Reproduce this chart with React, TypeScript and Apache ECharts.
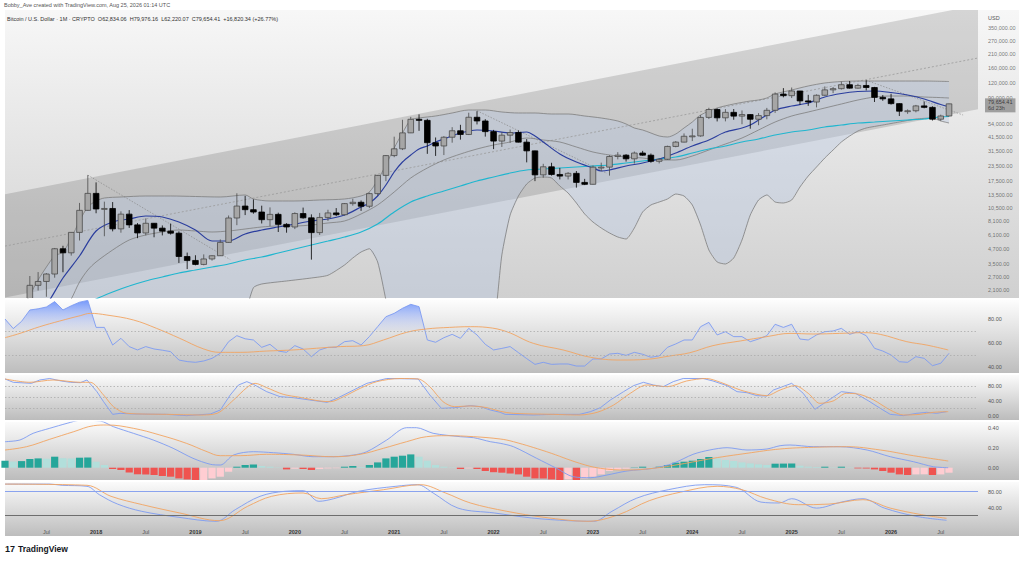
import React, { useEffect, useRef } from "react";
import * as echarts from "echarts";

// ---------- Monthly candles, index 0 = Mar 2017 ... 113 = Aug 2026 ----------
const OPEN = [
  1190, 1080, 1350, 2300, 2480, 2870, 4700, 4340, 6470, 9950,
  13860, 10220, 10320, 6930, 9240, 7490, 6400, 7730, 7030, 6630, 6370, 4040,
  3740, 3460, 3850, 4100, 5320, 8570, 10820, 10080, 9630, 8290, 9200, 7570,
  7190, 9350, 8600, 6440, 8660, 9460, 9140, 11350, 11650, 10780, 13800, 19700,
  29000, 33100, 45200, 58900, 57700, 37300, 35000, 41500, 47100, 43800, 61300, 57000,
  46300, 38500, 43200, 45500, 37700, 31800, 19900, 23300, 20050, 19430, 20500, 17170,
  16550, 23140, 23150, 28480, 29250, 27220, 30480, 29230, 25940, 26970, 34670, 37720,
  42280, 42580, 61130, 71330, 60640, 67490, 62680, 64620, 58970, 63330, 70220, 96450,
  93430, 102400, 84370, 82550, 94210, 104640, 107140, 115760, 108240, 114050, 109600, 90400,
  87800, 80000, 69000, 69600, 76500, 74400, 59000, 62834.06,
];
const CLOSE = [
  1080, 1350, 2300, 2480, 2870, 4700, 4340, 6470, 9950, 13860,
  10220, 10320, 6930, 9240, 7490, 6400, 7730, 7030, 6630, 6370, 4040, 3740,
  3460, 3850, 4100, 5320, 8570, 10820, 10080, 9630, 8290, 9200, 7570, 7190,
  9350, 8600, 6440, 8660, 9460, 9140, 11350, 11650, 10780, 13800, 19700, 29000,
  33100, 45200, 58900, 57700, 37300, 35000, 41500, 47100, 43800, 61300, 57000, 46300,
  38500, 43200, 45500, 37700, 31800, 19900, 23300, 20050, 19430, 20500, 17170, 16550,
  23140, 23150, 28480, 29250, 27220, 30480, 29230, 25940, 26970, 34670, 37720, 42280,
  42580, 61130, 71330, 60640, 67490, 62680, 64620, 58970, 63330, 70220, 96450, 93430,
  102400, 84370, 82550, 94210, 104640, 107140, 115760, 108240, 114050, 109600, 90400, 87800,
  80000, 69000, 69600, 76500, 74400, 59000, 62834.06, 79654.41,
];
const HIGH = [
  1280, 1350, 2760, 2980, 2920, 4770, 4980, 6470, 11500, 19800,
  17180, 11790, 11700, 9760, 10000, 7760, 8500, 7770, 7410, 7680, 6600, 4360,
  4140, 4210, 4130, 5640, 9000, 13880, 13200, 12330, 10900, 10540, 9510, 7750,
  9580, 10500, 9200, 9460, 10070, 10400, 11450, 12480, 12070, 14100, 19860, 29300,
  41950, 58350, 61800, 64900, 59500, 41300, 42400, 50500, 52900, 67000, 69000, 59100,
  47900, 45800, 48200, 47400, 40000, 31900, 24700, 25200, 22800, 21000, 21450, 18400,
  23950, 25250, 29200, 31000, 29820, 31400, 31800, 30200, 27500, 35200, 38500, 44700,
  48970, 64000, 73800, 72700, 71900, 72000, 70000, 65100, 66500, 73600, 99600, 108300,
  109600, 102500, 95000, 95800, 111900, 110600, 123200, 124500, 117900, 126200, 111000, 94500,
  97000, 80500, 71500, 78000, 83500, 76000, 64500, 79976.16,
];
const LOW = [
  890, 1060, 1350, 2080, 1840, 2670, 2970, 4110, 5520, 9900,
  9400, 6000, 6600, 6430, 7060, 5780, 6100, 5880, 6100, 6200, 3560, 3160,
  3400, 3400, 3730, 4080, 5300, 7450, 9070, 9320, 7700, 7300, 6520, 6430,
  6900, 8450, 3800, 6150, 8100, 8900, 8980, 10900, 9850, 10400, 13200, 17600,
  28100, 32300, 45000, 47000, 30000, 28800, 29300, 37300, 39600, 43300, 53300, 42000,
  32900, 34300, 37200, 37500, 25400, 17600, 18800, 19600, 18200, 18200, 15500, 16300,
  16500, 21400, 19600, 26940, 25800, 24800, 28900, 25200, 24900, 26600, 34100, 37600,
  38500, 41900, 59200, 56500, 56600, 58400, 53500, 49000, 52500, 58900, 66800, 90500,
  89200, 78200, 76600, 74400, 93400, 98200, 105300, 107400, 107300, 103500, 82600, 84500,
  78500, 62800, 65500, 67500, 73000, 57500, 57000, 62220.07,
];

// ---------- Overlays on the price pane: [month index, price] ----------
const MA_FAST = [
  [3, 1368], [4, 1570], [6, 2655], [8, 4080], [10, 6648], [12, 7925], [14, 8403], [16, 8910], [18, 8738],
  [20, 7925], [22, 6779], [24, 5468], [26, 5468], [28, 6270], [30, 6779], [32, 7188], [34, 7617], [36, 8082],
  [38, 8403], [40, 9085], [42, 10620], [43, 11490], [44, 13170], [45, 16320], [46, 21040], [47, 25580],
  [48, 29330], [49, 32980], [50, 34970], [51, 37800], [52, 40080], [54, 45060], [56, 47790], [58, 46870],
  [60, 45060], [62, 45950], [63, 42500], [64, 37800], [66, 29900], [68, 25580], [70, 22750], [71, 21460],
  [72, 21883], [74, 23660], [76, 25090], [78, 27120], [80, 30500], [82, 34970], [84, 39310], [86, 45950],
  [88, 49690], [89, 52690], [90, 58100], [91, 64060], [92, 70630], [94, 76360], [96, 80990], [98, 91000],
  [100, 97500], [102, 101400], [104, 102400], [106, 99400], [108, 94680], [110, 87600], [112, 78600], [113, 75300],
];
const MA_SLOW = [
  [8, 1475], [10, 1760], [12, 2020], [14, 2270], [16, 2505], [18, 2707], [20, 2928], [22, 3104], [24, 3291],
  [26, 3490], [28, 3773], [30, 3998], [32, 4326], [34, 4677], [36, 5058], [38, 5468], [40, 5913], [42, 6520],
  [44, 7617], [46, 9635], [48, 11710], [50, 13170], [52, 14520], [54, 16010], [56, 17650], [58, 19090],
  [60, 20640], [62, 21883], [64, 22310], [66, 22750], [68, 23200], [70, 23660], [72, 24130], [74, 25090],
  [76, 26090], [78, 27120], [80, 28200], [82, 30500], [84, 32980], [86, 34970], [88, 37800], [90, 40080],
  [92, 43340], [94, 45950], [96, 47790], [98, 50670], [100, 52690], [102, 54800], [104, 55870], [106, 56980],
  [108, 58100], [110, 59240], [112, 61600], [113, 62200],
];
const BB_UP = [
  [-1, 900], [0, 1100], [1, 1420], [2, 1904], [3, 2553], [4, 3290], [5, 4080], [6, 4410], [7, 5800], [8, 8082],
  [9, 10620], [10, 11945], [11, 12660], [13, 12910], [16, 13170], [19, 13170], [22, 13040], [25, 12910],
  [28, 13430], [29, 12420], [31, 11945], [34, 11945], [37, 12180], [40, 12420], [42, 13170], [43, 14240],
  [44, 18000], [45, 24130], [46, 33630], [47, 45060], [48, 58100], [49, 60420], [51, 62820], [53, 66620],
  [55, 70630], [57, 70630], [59, 67930], [61, 66620], [63, 66620], [65, 65330], [67, 65330], [69, 62820],
  [71, 60420], [73, 56980], [74, 53740], [75, 49690], [76, 47790], [77, 45060], [78, 42500], [79, 41680],
  [80, 44180], [81, 49690], [82, 55870], [83, 64060], [85, 73440], [87, 79420], [89, 84210], [90, 85870],
  [91, 89290], [92, 96520], [94, 104400], [96, 112900], [98, 119700], [100, 123200], [102, 124400],
  [104, 124400], [107, 124400], [110, 124400], [113, 123200],
];
const BB_MID = [
  [5, 1100], [6, 1368], [7, 1760], [8, 2454], [9, 3104], [10, 3630], [12, 4587], [14, 5576], [16, 6150],
  [18, 6520], [20, 6779], [22, 6648], [24, 6520], [26, 6648], [28, 6912], [30, 7188], [32, 7330], [34, 7330],
  [36, 7475], [38, 7772], [40, 8082], [42, 9270], [44, 11050], [46, 14240], [48, 18720], [50, 22750],
  [52, 26600], [54, 29900], [56, 32980], [58, 35660], [60, 37800], [62, 40880], [64, 39310], [66, 37800],
  [68, 34290], [70, 31100], [72, 29330], [74, 28200], [76, 27660], [78, 26600], [80, 26600], [82, 28760],
  [84, 32340], [86, 36360], [88, 40880], [90, 47790], [92, 55870], [94, 62820], [96, 67930], [98, 73440],
  [100, 79420], [102, 85870], [104, 91030], [106, 92850], [108, 92850], [110, 91030], [112, 90000], [113, 89290],
];
const BB_LO = [
  [-1, 400], [10, 400], [20, 500], [27, 800], [28, 1300], [29, 2200], [30, 2361], [33, 2504], [36, 2655],
  [38, 2800], [40, 3420], [41, 3923], [42, 4410], [43, 4700], [44, 3630], [45, 1728], [46, 800], [48, 400],
  [56, 400], [58, 1000], [59, 4160], [60, 9085], [61, 13170], [62, 16650], [63, 18720], [64, 19090],
  [65, 18720], [66, 16010], [67, 13960], [68, 11490], [69, 9270], [70, 7925], [71, 7049], [72, 6393],
  [73, 5913], [74, 5686], [75, 7049], [76, 9635], [77, 11050], [78, 11710], [79, 12420], [80, 13690],
  [81, 13170], [82, 11050], [83, 7475], [84, 4587], [85, 3630], [86, 3490], [87, 3923], [88, 5576],
  [89, 9085], [90, 12180], [91, 13430], [92, 11710], [93, 11490], [94, 12180], [95, 15700], [96, 19460],
  [97, 23200], [98, 27660], [99, 32340], [100, 37800], [101, 42500], [102, 46870], [103, 49690],
  [105, 52690], [107, 55870], [109, 59240], [111, 60420], [112, 56980], [113, 54800],
];
const CHANNEL_UP = [[-1, 13610], [116.5, 548600]];
const CHANNEL_MID = [[-1, 4950], [116.5, 195000]];
const CHANNEL_LO = [[-1, 1810], [116.5, 71740]];
const TRENDLINES = [
  [[9, 19800], [26.2, 3800]],
  [[56, 69600], [71.7, 20500]],
  [[103, 126200], [114.7, 64000]],
];

// ---------- Indicator panes ----------
// RSI, one value per month from index -1 (Feb 2017)
const RSI = [
  80, 72, 78, 87.5, 88.5, 90, 94.5, 87.5, 91, 94, 95.5, 73, 73, 58.3, 63.9, 57, 54.2, 57, 55, 54, 52.8,
  45.8, 44.5, 43.9, 45, 47.2, 51.4, 61.1, 66.1, 63.5, 62.5, 56.4, 58.9, 53.3, 52.2, 57.8, 55, 48.6, 54.2,
  56.4, 56.4, 61.1, 61.9, 58.3, 65.3, 73.6, 81.9, 84.7, 88.9, 92.2, 90.3, 62.5, 60.6, 64.4, 67.2, 63.9,
  72.2, 66.7, 58.9, 54.2, 55.5, 57, 52, 47, 42.2, 43.9, 42.2, 42.5, 42.5, 40.8, 40.8, 46.7, 46.7, 50.8,
  51.4, 49.7, 52.2, 50.6, 48.1, 49.2, 56.4, 59.2, 62.5, 62.5, 73.6, 77.2, 66.7, 69.4, 65.3, 65.3, 61.1,
  63.3, 66.1, 75.6, 73, 75.6, 63.3, 62.5, 66.7, 69.4, 70, 72.2, 67.2, 69.4, 66.1, 55.6, 53.3, 50, 44.4,
  43.9, 48.6, 47.2, 41.1, 43.1, 51.4,
];
const RSI_MA = [
  [-1, 64.4], [0.8, 68], [3.2, 73.6], [5.6, 78.3], [8.1, 82.8], [9.3, 84.7], [11.3, 83.3], [14.5, 79.2],
  [17.3, 72.2], [20.1, 63.9], [23, 55], [25, 52.2], [27.4, 52.2], [30.6, 53.3], [33.8, 54.2], [36.6, 55.6],
  [39.5, 57], [42.3, 57.8], [44.7, 62.5], [47.5, 68.9], [49.9, 71.7], [52.7, 73], [55.2, 73.6], [57.2, 73],
  [59.6, 69.4], [62.8, 59.7], [66.4, 54.2], [69.7, 48.1], [73.3, 45.8], [76.5, 46.4], [79.3, 49.2],
  [81.7, 51.9], [84.5, 57.8], [87.8, 61.7], [91, 65.3], [93.8, 68], [96.6, 67.5], [99.8, 68], [102.7, 68.6],
  [104.7, 67.2], [107.9, 61.1], [110.3, 58.3], [112.9, 54.2],
];
const STOCHRSI_K = [
  [-1, 98.7], [0, 89.8], [2.2, 87.1], [3.2, 96], [4.4, 100], [5.8, 93.3], [6.9, 89.8], [8.1, 88.9], [8.9, 96],
  [10.1, 64.9], [10.9, 38.2], [12, 4.4], [12.9, 7.1], [14.5, 5.3], [18.5, 4.4], [20.9, 1], [23.8, 5.3],
  [25, 16], [26.2, 56], [27.2, 82.7], [28.2, 91.6], [29, 84.4], [30.6, 64.9], [32.2, 51.6], [33.8, 48.9],
  [35.8, 42.7], [37.9, 36.4], [39.1, 47.1], [41.1, 69.3], [42.7, 87.1], [45.1, 100], [48.9, 98.7],
  [50.3, 56], [51.7, 20.4], [53.3, 22.2], [55.2, 27.6], [56.4, 24.9], [57.6, 16], [58.8, 9.8], [59.4, 4.4],
  [62.8, 2.7], [65.2, 4.4], [68.4, 4.4], [69.7, 11.6], [70.9, 22.2], [72.1, 42.7], [73.7, 64.9],
  [74.9, 80.9], [76.1, 89.8], [77.3, 82.7], [78.5, 78.2], [79.7, 91.6], [80.9, 100], [83.3, 100],
  [84.5, 93.3], [86.2, 80.9], [87.4, 64.9], [88.6, 62.2], [89.8, 54.2], [91, 53.3], [91.8, 69.3], [94, 87.1],
  [95.4, 60.4], [96.8, 17.8], [98.2, 38.2], [100, 64.9], [101.7, 60.4], [103.3, 40], [104.7, 20.4],
  [105.9, 4.4], [107.5, 1], [109.1, 7.1], [110.3, 9.8], [111.5, 7.1], [112.7, 11.6],
];
const STOCHRSI_D = [
  [-1, 98.7], [2, 89.8], [4.8, 96], [8.1, 89.8], [9.3, 89.8], [10.9, 56], [12.1, 24.9], [13.7, 7.1],
  [18.5, 4.4], [22.6, 2.7], [24.6, 7.1], [26.6, 42.7], [28.2, 75.6], [29.2, 87.1], [30.6, 75.6],
  [32.6, 57.8], [34.6, 49.8], [37, 40], [38.3, 38.2], [39.9, 51.6], [41.9, 73.8], [43.9, 91.6], [46.7, 100],
  [48.9, 98.7], [50.3, 78.2], [51.9, 38.2], [53.3, 24.9], [55.2, 26.7], [57.2, 22.2], [58.8, 12.5],
  [60.4, 7.1], [65.2, 4.4], [68.4, 2.7], [70.5, 9.8], [72.5, 29.3], [74.5, 60.4], [76.5, 82.7], [79, 78.2],
  [81.3, 93.3], [83.7, 100], [85.4, 89.8], [87.8, 69.3], [89.8, 57.8], [91, 54.2], [92.6, 69.3],
  [94.4, 80.9], [96, 60.4], [97.4, 33.8], [99, 40], [100.6, 60.4], [102.2, 57.8], [103.9, 42.7],
  [105.9, 16], [107.5, 2.7], [109.5, 4.4], [111.1, 9.8], [112.9, 11.6],
];
const MACD = [
  [-1, 0.26], [0.8, 0.277], [2.4, 0.344], [4.4, 0.394], [6.5, 0.444], [8.1, 0.474], [10.5, 0.467],
  [12.1, 0.41], [14.5, 0.344], [16.9, 0.277], [19.3, 0.194], [21.7, 0.094], [23.8, 0.034], [25, 0.027],
  [26.6, 0.127], [29, 0.16], [31.4, 0.15], [33.8, 0.134], [36.2, 0.11], [38.7, 0.11], [41.1, 0.127],
  [42.7, 0.16], [45.1, 0.277], [47.5, 0.4], [48.7, 0.4], [50.7, 0.344], [54, 0.31], [55.6, 0.3],
  [57.6, 0.26], [58.8, 0.244], [60.4, 0.21], [63.2, 0.094], [65.6, -0.006], [67.6, -0.09], [69.7, -0.1],
  [71.7, -0.073], [74.1, -0.033], [77.3, -0.006], [79.7, 0.044], [82.1, 0.134], [84.1, 0.177], [86.2, 0.2],
  [88.6, 0.177], [91, 0.187], [92.6, 0.22], [93.8, 0.227], [96.6, 0.21], [99.8, 0.21], [103.1, 0.177],
  [105.9, 0.11], [108.7, 0.06], [111.1, 0.01], [112.9, 0.0],
];
const MACD_SIGNAL = [
  [-1, 0.177], [1.6, 0.21], [4.4, 0.284], [7.3, 0.36], [9.7, 0.42], [11.3, 0.427], [14.5, 0.394],
  [17.7, 0.327], [20.9, 0.244], [23.4, 0.16], [25, 0.12], [27.4, 0.12], [30.6, 0.134], [34.6, 0.127],
  [38.7, 0.11], [41.9, 0.134], [44.7, 0.194], [47.5, 0.26], [49.9, 0.31], [52.4, 0.32], [55.6, 0.31],
  [58.8, 0.287], [60.4, 0.26], [64.4, 0.16], [68.4, 0.044], [70.9, -0.006], [74.1, -0.023], [77.3, -0.006],
  [80.5, 0.034], [84.5, 0.094], [88.6, 0.144], [92.6, 0.187], [96.6, 0.204], [100.6, 0.21], [104.7, 0.177],
  [108.7, 0.12], [112.9, 0.067],
];
// MACD histogram, one value per month from index -1
const MACD_HIST = [
  0.07, 0.062, 0.066, 0.087, 0.093, 0.09, 0.11, 0.095, 0.092, 0.1, 0.102, 0.06, 0.027, -0.013, -0.023,
  -0.047, -0.066, -0.068, -0.073, -0.083, -0.09, -0.107, -0.117, -0.13, -0.123, -0.107, -0.09, -0.04, 0.01,
  0.027, 0.033, 0.017, 0.01, 0.003, -0.017, -0.01, -0.013, -0.023, -0.013, -0.007, -0.005, 0.01, 0.017,
  0.007, 0.027, 0.053, 0.093, 0.11, 0.12, 0.133, 0.11, 0.07, 0.027, 0.01, 0.003, -0.013, -0.007, -0.013,
  -0.033, -0.045, -0.05, -0.057, -0.067, -0.09, -0.107, -0.108, -0.117, -0.123, -0.117, -0.13, -0.107,
  -0.09, -0.067, -0.033, -0.023, -0.01, 0.003, 0.01, 0.003, 0.01, 0.027, 0.05, 0.06, 0.07, 0.087, 0.107,
  0.093, 0.077, 0.067, 0.053, 0.043, 0.033, 0.027, 0.04, 0.041, 0.042, 0.02, 0.01, 0.007, 0.01, 0.003,
  0.01, 0.003, -0.007, -0.008, -0.017, -0.033, -0.05, -0.067, -0.073, -0.067, -0.066, -0.073, -0.067, -0.05,
];
const STOCH_K = [
  [-1, 99], [4.4, 99], [5.9, 96], [8.9, 93.5], [10.4, 72.5], [12.6, 49], [15.5, 31], [20, 16], [24.5, 6],
  [26.8, 35], [29.8, 68.5], [32.8, 81], [35, 82.5], [36.9, 56], [38.7, 62.5], [41.7, 81], [46.2, 93.5],
  [48.8, 97.5], [50.7, 76.8], [53.7, 39], [58.1, 26.8], [62.6, 14.3], [67.1, 7.5], [70.1, 6], [72.3, 31],
  [75.3, 64], [79.1, 85], [83.5, 97.5], [87.3, 91], [90.3, 54], [92.5, 51.8], [94, 62.5], [97, 39],
  [100, 54], [102.6, 62.5], [105.2, 39], [109, 18.5], [112.7, 8.5],
];
const STOCH_D = [
  [-1, 99], [8.9, 96], [11.8, 68.5], [15.6, 47.5], [20.1, 26.8], [24.9, 7.5], [28.3, 43.5], [31.2, 68.5],
  [35, 76.8], [37.2, 62.5], [40.2, 72.5], [44.7, 85], [49.2, 97.5], [52.2, 76.8], [55.2, 51.8], [59.6, 31],
  [64.1, 16], [69.4, 6], [73.1, 22.5], [76.8, 57.5], [80.6, 79], [85, 93.5], [88, 85], [91, 62.5],
  [94.8, 47.5], [98.5, 49], [102.6, 60], [105.9, 39], [109.7, 22.5], [112.7, 13.5],
];

// ---------- Axis ticks ----------
const PRICE_TICKS = [2100, 2700, 3500, 4700, 6100, 8100, 10500, 13500, 17500, 23500, 31500, 41500, 54000,
  90000, 120000, 160000, 210000, 270000, 350000];
const LAST_PRICE = 79654.41;
const X_TICK_POS = [4, 10, 16, 22, 28, 34, 40, 46, 52, 58, 64, 70, 76, 82, 88, 94, 100, 106, 112];
const X_TICK_LABELS = ["Jul", "2018", "Jul", "2019", "Jul", "2020", "Jul", "2021", "Jul", "2022", "Jul",
  "2023", "Jul", "2024", "Jul", "2025", "Jul", "2026", "Jul"];
const RSI_TICKS = [40, 60, 80];
const STOCHRSI_TICKS = [0, 40, 80];
const MACD_TICKS = [0, 0.2, 0.4];
const STOCH_TICKS = [40, 80];

const CREDIT = "Bobby_Ave created with TradingView.com, Aug 25, 2026 01:14 UTC";
const HEADER = "Bitcoin / U.S. Dollar · 1M · CRYPTO  O62,834.06  H79,976.16  L62,220.07  C79,654.41  +16,820.34 (+26.77%)";

const FONT = "Liberation Sans, Arial, sans-serif";
const X_MIN = -1;
const X_MAX = 116.5;
const P_MIN = 1796;
const P_MAX = 498100;

function buildOption() {
  const candles = OPEN.map((o, k) => [k, o, CLOSE[k], LOW[k], HIGH[k]]);
  const rsi = RSI.map((v, k) => [k - 1, v]);
  const hist = MACD_HIST.map((v, k) => {
    const p = k > 0 ? MACD_HIST[k - 1] : v;
    let c: string;
    if (v >= 0) c = v >= p ? "#26a69a" : "#b2dfdb";
    else c = v < p ? "#ef5350" : "#ffcdd2";
    return { value: [k - 1, v], itemStyle: { color: c } };
  });

  const line = (data: number[][], gi: number, color: string, width: number, extra: any = {}) => ({
    type: "line", xAxisIndex: gi, yAxisIndex: gi, data, showSymbol: false, symbol: "none",
    silent: true, lineStyle: { color, width }, z: 4, ...extra,
  });

  const polygon = (upper: number[][], lower: number[][], fill: string, z: number) => ({
    type: "custom", xAxisIndex: 0, yAxisIndex: 0, z, silent: true, clip: true,
    data: [[0, 10000]],
    renderItem: (_p: any, api: any) => {
      const pts = upper.map((p) => api.coord(p)).concat(lower.slice().reverse().map((p) => api.coord(p)));
      return { type: "polygon", shape: { points: pts }, style: { fill } };
    },
  });

  const candleSeries = {
    type: "custom", xAxisIndex: 0, yAxisIndex: 0, z: 6, silent: true, clip: true,
    data: candles,
    encode: { x: 0, y: [1, 2, 3, 4] },
    renderItem: (_p: any, api: any) => {
      const x = api.value(0), o = api.value(1), c = api.value(2), l = api.value(3), h = api.value(4);
      const pO = api.coord([x, o]);
      const pC = api.coord([x, c]);
      const pL = api.coord([x, l]);
      const pH = api.coord([x, h]);
      const w = api.size([1, 0])[0] * 0.68;
      const up = c >= o;
      const top = Math.min(pO[1], pC[1]);
      const bot = Math.max(pO[1], pC[1]);
      const stroke = up ? "#4a4a4a" : "#000000";
      return {
        type: "group",
        children: [
          { type: "line", shape: { x1: pH[0], y1: pH[1], x2: pL[0], y2: pL[1] }, style: { stroke, lineWidth: 0.8 } },
          {
            type: "rect",
            shape: { x: pO[0] - w / 2, y: top, width: w, height: Math.max(bot - top, 0.9) },
            style: { fill: up ? "#a6a6a6" : "#000000", stroke, lineWidth: 0.8 },
          },
        ],
      };
    },
  };

  const paneTops = [300, 375, 422, 482];
  const paneHeights = [73, 45, 58, 46];
  const grids: any[] = [{ left: 5, top: 10, width: 973, height: 288 }];
  paneTops.forEach((t, k) => grids.push({ left: 5, top: t, width: 973, height: paneHeights[k] }));
  grids.push({ left: 978, top: 10, width: 46, height: 288 });

  const xAxes: any[] = [];
  for (let g = 0; g < 5; g++) {
    xAxes.push({
      type: "value", gridIndex: g, min: X_MIN, max: X_MAX, show: g === 4,
      axisLine: { show: false }, axisTick: { show: false }, splitLine: { show: false },
      axisLabel: {
        show: g === 4, customValues: X_TICK_POS, margin: 1, fontSize: 5.5, color: "#555", fontFamily: FONT,
        formatter: (v: number) => {
          const t = X_TICK_LABELS[X_TICK_POS.indexOf(Math.round(v))] || "";
          return t === "Jul" ? t : "{b|" + t + "}";
        },
        rich: { b: { fontWeight: "bold", fontSize: 5.5, color: "#333", fontFamily: FONT } },
      },
    });
  }
  xAxes.push({ type: "value", gridIndex: 5, min: 0, max: 1, show: false });

  const valAxis = (g: number, min: number, max: number, ticks: number[]) => ({
    type: "value", gridIndex: g, min, max, position: "right",
    axisLine: { show: false }, axisTick: { show: false }, splitLine: { show: false },
    axisLabel: {
      customValues: ticks, margin: 10, fontSize: 5.5, color: "#555", fontFamily: FONT,
      formatter: (v: number) => v.toFixed(2),
    },
  });

  const yAxes: any[] = [
    { type: "log", logBase: 10, gridIndex: 0, min: P_MIN, max: P_MAX, show: false },
    valAxis(1, 35, 95.83, RSI_TICKS),
    valAxis(2, -10.67, 109.33, STOCHRSI_TICKS),
    valAxis(3, -0.123, 0.457, MACD_TICKS),
    valAxis(4, -10.75, 104.25, STOCH_TICKS),
    { type: "log", logBase: 10, gridIndex: 5, min: P_MIN, max: P_MAX, show: false },
  ];

  const dotted = (vals: number[], color = "#ababab") => ({
    silent: true, symbol: ["none", "none"], label: { show: false },
    lineStyle: { color, type: [1.5, 2], width: 0.8 },
    data: vals.map((v) => ({ yAxis: v })),
  });

  const fmt = (v: number) => v.toLocaleString("en-US", { minimumFractionDigits: 2, maximumFractionDigits: 2 });

  const series: any[] = [
    polygon(CHANNEL_UP, CHANNEL_LO, "rgba(40,40,40,0.16)", 1),
    polygon(BB_UP, BB_LO, "rgba(185,200,226,0.40)", 2),
    line(CHANNEL_MID, 0, "#9a9a9a", 0.8, { z: 3, lineStyle: { color: "#9a9a9a", width: 0.8, type: [2, 2] } }),
    ...TRENDLINES.map((t) => line(t, 0, "#8a8a8a", 0.7, { z: 3, lineStyle: { color: "#8a8a8a", width: 0.7, type: [1.5, 1.5] } })),
    line(BB_UP, 0, "#7d7d7d", 0.8, { z: 3, smooth: 0.3 }),
    line(BB_MID, 0, "#7d7d7d", 0.8, { z: 3, smooth: 0.3 }),
    line(BB_LO, 0, "#7d7d7d", 0.8, { z: 3, smooth: 0.2 }),
    line(MA_SLOW, 0, "#1fb6cf", 1.2, { smooth: 0.3 }),
    line(MA_FAST, 0, "#2b3e9e", 1.2, { smooth: 0.3 }),
    candleSeries,
    // price axis labels (placed through the same log scale)
    {
      type: "scatter", xAxisIndex: 5, yAxisIndex: 5, silent: true, clip: false, symbolSize: 1,
      itemStyle: { color: "rgba(0,0,0,0)" },
      data: PRICE_TICKS.map((v) => [0, v]),
      label: {
        show: true, position: "right", distance: 9.5, fontSize: 5.5, color: "#555", fontFamily: FONT,
        formatter: (p: any) => fmt(p.value[1]),
      },
    },
    {
      type: "scatter", xAxisIndex: 5, yAxisIndex: 5, silent: true, clip: false, symbolSize: 1, z: 10,
      itemStyle: { color: "rgba(0,0,0,0)" },
      data: [[0, LAST_PRICE]],
      label: {
        show: true, position: "right", distance: 6.5, offset: [0, 1.5],
        backgroundColor: "#8c8c8c", padding: [1, 3, 1, 3],
        formatter: () => "{a|" + fmt(LAST_PRICE) + "}\n{b|6d 23h}",
        rich: {
          a: { fontSize: 5.5, color: "#1c1c1c", fontFamily: FONT, lineHeight: 6 },
          b: { fontSize: 5.5, color: "#2a2a2a", fontFamily: FONT, lineHeight: 6 },
        },
      },
    },
    // RSI pane
    line(rsi, 1, "#7d9bf2", 0.9, {
      areaStyle: {
        origin: "start",
        color: new echarts.graphic.LinearGradient(0, 300, 0, 331, [
          { offset: 0, color: "rgba(45,100,250,0.95)" },
          { offset: 0.97, color: "rgba(140,165,250,0.12)" },
          { offset: 1, color: "rgba(140,165,250,0)" },
        ], true),
      },
      markLine: dotted([70, 50]),
    }),
    line(RSI_MA, 1, "#f2a461", 0.9, { smooth: 0.4 }),
    // Stoch RSI pane
    line(STOCHRSI_K, 2, "#7d9bf2", 0.9, { markLine: dotted([80, 50, 20]) }),
    line(STOCHRSI_D, 2, "#f2a461", 0.9, { smooth: 0.3 }),
    // MACD pane
    {
      type: "bar", xAxisIndex: 3, yAxisIndex: 3, data: hist, barWidth: 7.2, silent: true, z: 2,
    },
    line(MACD, 3, "#7d9bf2", 0.9, { smooth: 0.3 }),
    line(MACD_SIGNAL, 3, "#f2a461", 0.9, { smooth: 0.4 }),
    // Stochastic pane
    line(STOCH_K, 4, "#7d9bf2", 0.9, {
      smooth: 0.35,
      markLine: {
        silent: true, symbol: ["none", "none"], label: { show: false },
        data: [
          { yAxis: 80, lineStyle: { color: "#8aa3ee", width: 1, type: "solid" } },
          { yAxis: 20, lineStyle: { color: "#6e6e6e", width: 1, type: "solid" } },
        ],
      },
    }),
    line(STOCH_D, 4, "#f2a461", 0.9, { smooth: 0.35 }),
  ];

  const bg = (y: number, h: number, top: string, bottom: string) => ({
    type: "rect", silent: true, z: 0,
    shape: { x: 5, y, width: 1014, height: h },
    style: { fill: new echarts.graphic.LinearGradient(0, 0, 0, 1, [{ offset: 0, color: top }, { offset: 1, color: bottom }]) },
  });
  const txt = (x: number, y: number, text: string, size: number, fill: string, weight = "normal") => ({
    type: "text", x, y, z: 100, silent: true,
    style: { text, fontSize: size, fill, fontFamily: FONT, fontWeight: weight, verticalAlign: "middle", align: "left" },
  });

  return {
    animation: false,
    backgroundColor: "#ffffff",
    textStyle: { fontFamily: FONT },
    grid: grids,
    xAxis: xAxes,
    yAxis: yAxes,
    series,
    graphic: [
      bg(10, 288, "#f7f7f7", "#d0d0d0"),
      bg(300, 73, "#fdfdfd", "#bdbdbd"),
      bg(375, 45, "#fbfbfb", "#bcbcbc"),
      bg(422, 58, "#fbfbfb", "#bcbcbc"),
      bg(482, 54, "#fbfbfb", "#bdbdbd"),
      txt(4, 5, CREDIT, 5.5, "#555"),
      txt(7, 18.5, HEADER, 5.5, "#333"),
      txt(988, 17.5, "USD", 5.5, "#555"),
      txt(5, 548.5, "17", 9, "#131722", "bold"),
      txt(18, 548.5, "TradingView", 8.5, "#131722", "bold"),
    ],
  };
}

export default function App() {
  const ref = useRef<HTMLDivElement>(null);
  useEffect(() => {
    if (!ref.current) return;
    const chart = echarts.init(ref.current, null, { renderer: "svg" });
    chart.setOption(buildOption() as any);
    return () => chart.dispose();
  }, []);
  return (
    <div
      ref={ref}
      style={{ position: "absolute", left: 0, top: 0, width: 1024, height: 561, background: "#fff" }}
    />
  );
}
